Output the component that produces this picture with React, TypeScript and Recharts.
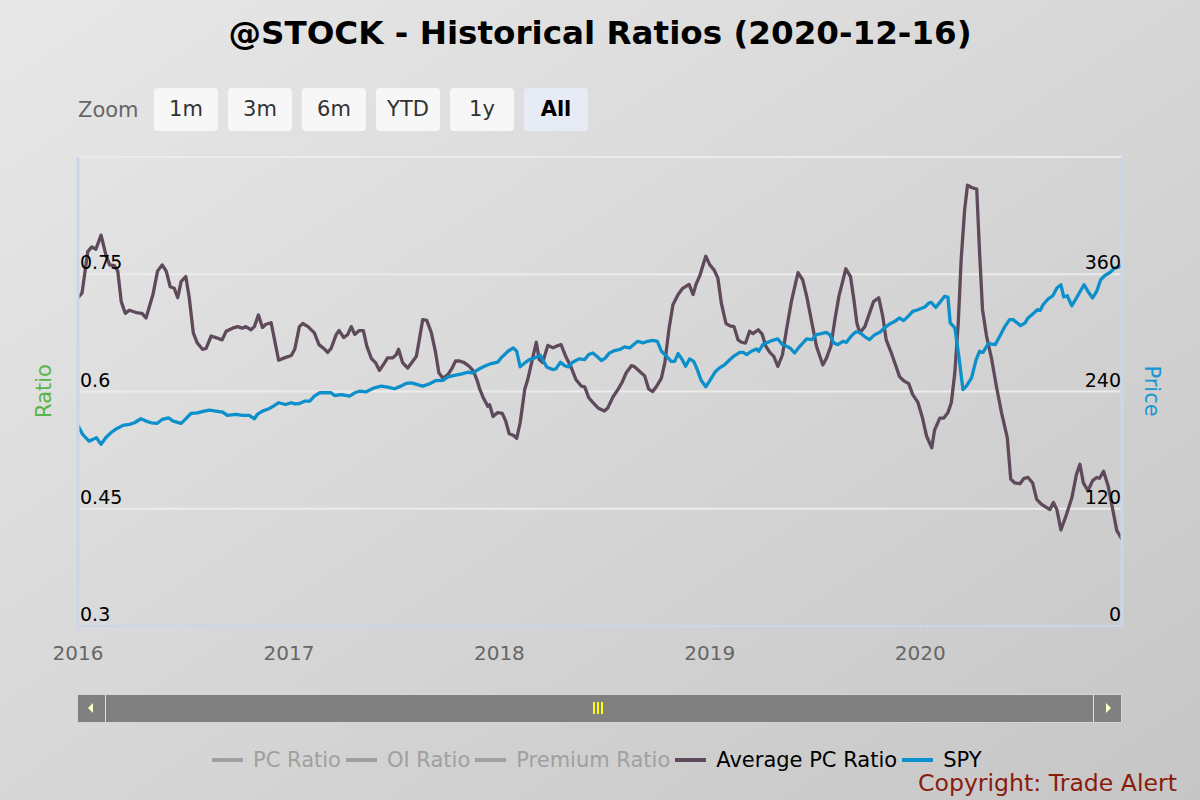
import React from "react";
import { LineChart, Line, XAxis, YAxis, CartesianGrid } from "recharts";

// Average PC Ratio (left axis)
const pcDates = [
  "2016-01-01","2016-01-08","2016-01-18","2016-01-25","2016-02-01","2016-02-10","2016-02-19","2016-02-25","2016-03-04","2016-03-10",
  "2016-03-16","2016-03-23","2016-03-30","2016-04-11","2016-04-21","2016-04-28","2016-05-10","2016-05-18","2016-05-26","2016-06-02",
  "2016-06-09","2016-06-16","2016-06-22","2016-06-28","2016-07-06","2016-07-12","2016-07-19","2016-07-26","2016-08-04","2016-08-10",
  "2016-08-19","2016-08-27","2016-09-07","2016-09-14","2016-09-25","2016-10-04","2016-10-12","2016-10-18","2016-10-27","2016-11-02",
  "2016-11-09","2016-11-16","2016-11-22","2016-12-01","2016-12-07","2016-12-14","2016-12-24",
  "2017-01-05","2017-01-11","2017-01-19","2017-01-25","2017-02-03","2017-02-14","2017-02-22","2017-03-04","2017-03-09","2017-03-15",
  "2017-03-24","2017-03-29","2017-04-06","2017-04-13","2017-04-19","2017-04-25","2017-05-03","2017-05-10","2017-05-16","2017-05-24",
  "2017-05-31","2017-06-07","2017-06-16","2017-06-21","2017-06-30","2017-07-06","2017-07-10","2017-07-17","2017-07-26","2017-08-04",
  "2017-08-10","2017-08-15","2017-08-21","2017-08-28","2017-09-05","2017-09-12","2017-09-18","2017-09-25","2017-10-04","2017-10-11",
  "2017-10-17","2017-10-24","2017-11-01","2017-11-10","2017-11-17","2017-11-23","2017-11-28","2017-12-04","2017-12-12","2017-12-15",
  "2017-12-21","2017-12-29",
  "2018-01-06","2018-01-12","2018-01-18","2018-01-25","2018-01-31","2018-02-06","2018-02-14","2018-02-19","2018-02-25","2018-03-06",
  "2018-03-11","2018-03-17","2018-03-26","2018-04-04","2018-04-10","2018-04-18","2018-04-26","2018-05-06","2018-05-14","2018-05-23",
  "2018-05-29","2018-06-05","2018-06-12","2018-06-21","2018-07-02","2018-07-08","2018-07-17","2018-07-26","2018-08-02","2018-08-09",
  "2018-08-18","2018-08-23","2018-09-01","2018-09-10","2018-09-17","2018-09-24","2018-10-01","2018-10-09","2018-10-15","2018-10-22",
  "2018-10-29","2018-11-07","2018-11-15","2018-11-26","2018-12-03","2018-12-08","2018-12-15","2018-12-25",
  "2019-01-01","2019-01-08","2019-01-15","2019-01-21","2019-01-29","2019-02-05","2019-02-12","2019-02-19","2019-02-25","2019-03-04",
  "2019-03-11","2019-03-17","2019-03-26","2019-04-02","2019-04-08","2019-04-15","2019-04-22","2019-04-29","2019-05-07","2019-05-14",
  "2019-05-23","2019-06-03","2019-06-11","2019-06-18","2019-06-27","2019-07-05","2019-07-16","2019-07-22","2019-07-30","2019-08-06",
  "2019-08-13","2019-08-25","2019-09-02","2019-09-08","2019-09-13","2019-09-18","2019-09-27","2019-10-04","2019-10-12","2019-10-21",
  "2019-10-28","2019-11-03","2019-11-12","2019-11-21","2019-11-26","2019-12-03","2019-12-12","2019-12-19","2019-12-28",
  "2020-01-05","2020-01-12","2020-01-21","2020-01-26","2020-02-04","2020-02-11","2020-02-18","2020-02-24","2020-03-01","2020-03-07",
  "2020-03-12","2020-03-18","2020-03-23","2020-03-30","2020-04-08","2020-04-13","2020-04-18","2020-04-25","2020-05-04","2020-05-12",
  "2020-05-21","2020-05-31","2020-06-06","2020-06-13","2020-06-22","2020-06-29","2020-07-06","2020-07-14","2020-07-21","2020-07-29",
  "2020-08-06","2020-08-13","2020-08-19","2020-08-25","2020-09-01","2020-09-10","2020-09-20","2020-09-28","2020-10-04","2020-10-10",
  "2020-10-18","2020-10-26","2020-11-02","2020-11-07","2020-11-14","2020-11-22","2020-12-01","2020-12-07","2020-12-16",
];
const pcValues = [
  0.720,0.726,0.779,0.785,0.782,0.800,0.773,0.762,0.761,0.754,
  0.715,0.700,0.704,0.701,0.700,0.694,0.724,0.754,0.762,0.754,
  0.734,0.732,0.720,0.741,0.747,0.720,0.675,0.662,0.654,0.655,
  0.671,0.669,0.666,0.677,0.681,0.683,0.681,0.683,0.679,0.683,
  0.698,0.682,0.686,0.688,0.666,0.640,0.643,
  0.646,0.654,0.683,0.687,0.683,0.675,0.660,0.654,0.650,0.655,
  0.673,0.678,0.669,0.673,0.683,0.673,0.678,0.678,0.658,0.642,
  0.637,0.627,0.637,0.643,0.643,0.647,0.654,0.637,0.630,0.639,
  0.645,0.666,0.692,0.691,0.675,0.651,0.624,0.617,0.622,0.630,
  0.639,0.639,0.637,0.632,0.626,0.615,0.603,0.592,0.581,0.583,
  0.568,0.573,
  0.572,0.562,0.546,0.544,0.540,0.560,0.603,0.615,0.634,0.663,
  0.641,0.637,0.659,0.656,0.658,0.660,0.645,0.630,0.615,0.607,
  0.606,0.592,0.586,0.579,0.575,0.579,0.593,0.603,0.612,0.624,
  0.633,0.632,0.626,0.620,0.603,0.600,0.607,0.617,0.637,0.679,
  0.711,0.724,0.732,0.737,0.724,0.737,0.749,0.773,
  0.762,0.756,0.745,0.713,0.687,0.684,0.683,0.666,0.663,0.662,
  0.677,0.674,0.679,0.673,0.658,0.650,0.645,0.632,0.647,0.679,
  0.717,0.752,0.743,0.722,0.688,0.658,0.634,0.642,0.658,0.692,
  0.722,0.757,0.747,0.717,0.688,0.675,0.683,0.698,0.715,0.720,
  0.696,0.666,0.649,0.630,0.619,0.614,0.610,0.596,0.586,
  0.566,0.543,0.528,0.551,0.566,0.566,0.573,0.586,0.624,0.688,
  0.769,0.832,0.864,0.861,0.859,0.777,0.705,0.671,0.641,0.607,
  0.573,0.541,0.488,0.483,0.482,0.489,0.490,0.483,0.462,0.456,
  0.452,0.449,0.458,0.449,0.423,0.441,0.464,0.494,0.507,0.483,
  0.473,0.486,0.490,0.489,0.498,0.479,0.445,0.422,0.411,
];

// SPY (right axis)
const spyDates = [
  "2016-01-01","2016-01-09","2016-01-20","2016-01-27","2016-02-02","2016-02-10","2016-02-18","2016-02-27","2016-03-08","2016-03-19",
  "2016-03-30","2016-04-08","2016-04-19","2016-04-28","2016-05-07","2016-05-17","2016-05-26","2016-06-06","2016-06-14","2016-06-28",
  "2016-07-05","2016-07-15","2016-07-26","2016-08-07","2016-08-16","2016-08-27","2016-09-08","2016-09-16","2016-10-01","2016-10-12",
  "2016-10-24","2016-11-02","2016-11-07","2016-11-16","2016-11-27","2016-12-05","2016-12-14","2016-12-26",
  "2017-01-05","2017-01-11","2017-01-19","2017-01-28","2017-02-06","2017-02-14","2017-02-23","2017-03-04","2017-03-15","2017-03-21",
  "2017-04-02","2017-04-16","2017-04-25","2017-05-03","2017-05-15","2017-05-29","2017-06-10","2017-06-21","2017-07-03","2017-07-14",
  "2017-07-23","2017-08-01","2017-08-12","2017-08-21","2017-09-02","2017-09-13","2017-09-25","2017-10-04","2017-10-15","2017-10-28",
  "2017-11-07","2017-11-16","2017-11-25","2017-12-06","2017-12-18","2017-12-29",
  "2018-01-04","2018-01-16","2018-01-25","2018-01-31","2018-02-06","2018-02-14","2018-02-22","2018-03-03","2018-03-13","2018-03-17",
  "2018-03-24","2018-04-03","2018-04-09","2018-04-17","2018-04-24","2018-05-01","2018-05-08","2018-05-19","2018-05-29","2018-06-05",
  "2018-06-12","2018-06-19","2018-06-27","2018-07-04","2018-07-11","2018-07-20","2018-07-29","2018-08-06","2018-08-15","2018-08-22",
  "2018-08-29","2018-09-07","2018-09-15","2018-09-24","2018-10-02","2018-10-09","2018-10-18","2018-10-26","2018-11-01","2018-11-07",
  "2018-11-14","2018-11-20","2018-11-27","2018-12-04","2018-12-09","2018-12-17","2018-12-25",
  "2019-01-01","2019-01-10","2019-01-18","2019-01-27","2019-02-05","2019-02-13","2019-02-22","2019-02-28","2019-03-06","2019-03-14",
  "2019-03-23","2019-03-27","2019-04-03","2019-04-12","2019-04-20","2019-04-29","2019-05-07","2019-05-16","2019-05-20","2019-05-28",
  "2019-06-06","2019-06-18","2019-06-27","2019-07-05","2019-07-13","2019-07-22","2019-07-28","2019-08-04","2019-08-11","2019-08-20",
  "2019-08-26","2019-09-03","2019-09-11","2019-09-18","2019-09-27","2019-10-05","2019-10-14","2019-10-23","2019-10-31","2019-11-09",
  "2019-11-18","2019-11-26","2019-12-03","2019-12-11","2019-12-19","2019-12-28",
  "2020-01-09","2020-01-16","2020-01-20","2020-01-28","2020-02-04","2020-02-12","2020-02-18","2020-02-22","2020-03-01","2020-03-08",
  "2020-03-15","2020-03-21","2020-03-30","2020-04-07","2020-04-13","2020-04-19","2020-04-28","2020-05-10","2020-05-18","2020-05-27",
  "2020-06-04","2020-06-10","2020-06-16","2020-06-23","2020-07-01","2020-07-06","2020-07-15","2020-07-22","2020-07-27","2020-08-01",
  "2020-08-10","2020-08-18","2020-08-25","2020-09-01","2020-09-06","2020-09-12","2020-09-20","2020-09-28","2020-10-11","2020-10-18",
  "2020-10-26","2020-11-02","2020-11-09","2020-11-16","2020-11-25","2020-12-03","2020-12-16",
];
const spyValues = [
  205.0,196.1,189.2,191.0,192.7,185.9,192.7,197.8,201.9,205.3,
  206.3,208.0,212.1,209.7,208.0,207.3,211.4,213.1,209.7,207.3,
  211.4,217.5,218.2,219.9,220.9,219.9,218.9,215.5,216.5,215.5,
  215.5,212.1,216.5,219.9,222.3,225.0,228.5,226.7,
  228.5,227.4,227.7,230.1,230.1,235.2,238.7,238.7,238.7,235.9,
  236.9,235.2,238.7,240.3,239.7,243.8,245.5,244.4,242.8,245.5,
  248.2,248.9,247.1,245.5,247.9,251.2,251.5,255.0,256.6,258.1,
  259.7,259.1,262.5,265.8,268.6,270.0,
  274.4,281.2,284.6,281.2,265.2,269.3,272.7,274.4,277.1,272.7,
  265.2,262.5,263.2,269.9,266.5,265.2,269.9,273.4,272.7,277.8,
  279.5,276.0,271.7,274.4,279.5,281.9,283.0,285.7,284.6,288.0,
  291.4,289.7,291.4,292.4,291.4,281.2,276.0,270.9,270.9,278.8,
  272.7,265.8,273.4,270.9,264.2,251.5,244.8,
  251.2,259.9,264.2,267.6,272.7,276.8,280.1,280.1,277.8,281.2,
  283.6,281.2,288.0,290.3,292.4,293.8,288.0,285.7,284.6,279.5,
  286.3,293.8,293.1,298.2,299.2,300.6,298.2,289.7,288.0,291.4,
  290.3,296.5,301.0,300.6,295.9,293.1,298.2,300.6,305.1,309.1,
  311.8,315.3,312.5,316.9,322.0,323.7,
  326.5,330.6,331.2,326.1,331.2,337.3,336.7,310.2,305.1,276.0,
  242.0,245.5,254.0,272.7,281.2,280.1,289.0,288.0,296.5,306.7,
  313.5,313.5,310.8,307.4,310.2,315.3,319.7,323.7,323.0,328.8,
  334.7,338.0,345.9,349.3,336.7,338.0,327.8,335.7,349.3,342.4,
  335.7,342.4,354.4,358.5,361.8,366.3,368.7,
];

const yearTicks = ["2016-01-01", "2017-01-01", "2018-01-01", "2019-01-01", "2020-01-01"];
const ratioTicks = [0.3, 0.45, 0.6, 0.75, 0.9];
const priceTicks = [0, 120, 240, 360, 480];
const zoomButtons = ["1m", "3m", "6m", "YTD", "1y", "All"];
const selectedZoom = "All";
const legendNames = ["PC Ratio", "OI Ratio", "Premium Ratio", "Average PC Ratio", "SPY"];
const hiddenSeries = ["PC Ratio", "OI Ratio", "Premium Ratio"];

const FONT = "'DejaVu Sans', sans-serif";
const PC_COLOR = "#5e4a5a";
const SPY_COLOR = "#0c90cb";
const AXIS_COLOR = "#ccd6eb";
const seriesColor: Record<string, string> = {
  "Average PC Ratio": PC_COLOR,
  SPY: SPY_COLOR,
};

const toTime = (d: string) => new Date(d + "T00:00:00Z").getTime();

const pcData = pcDates.map((d, i) => ({ t: toTime(d), pc: pcValues[i] }));
const spyData = spyDates.map((d, i) => ({ t: toTime(d), spy: spyValues[i] }));
const xMin = Math.min(pcData[0].t, spyData[0].t);
const xMax = Math.max(pcData[pcData.length - 1].t, spyData[spyData.length - 1].t);

// labels sit inside the plot, just above their grid line; the top one is skipped
const LeftTick = (props: any) => {
  const { x, y, payload } = props;
  if (payload.value === ratioTicks[ratioTicks.length - 1]) return <g />;
  return (
    <text x={x + 2} y={y - 5} fill="#000" fontSize={19} fontFamily={FONT} textAnchor="start">
      {payload.value}
    </text>
  );
};

const RightTick = (props: any) => {
  const { x, y, payload } = props;
  if (payload.value === priceTicks[priceTicks.length - 1]) return <g />;
  return (
    <text x={x - 1} y={y - 5} fill="#000" fontSize={19} fontFamily={FONT} textAnchor="end">
      {payload.value}
    </text>
  );
};

function Scrollbar() {
  return (
    <div style={{ position: "absolute", left: 77, top: 694, width: 1045, height: 29, background: "#d4d4d4" }}>
      <div style={{ position: "absolute", left: 1, top: 1, right: 1, bottom: 1, background: "#808080" }} />
      <div style={{ position: "absolute", left: 28, top: 1, width: 1, bottom: 1, background: "#e0e0e0" }} />
      <div style={{ position: "absolute", right: 28, top: 1, width: 1, bottom: 1, background: "#e0e0e0" }} />
      <div style={{ position: "absolute", left: 11, top: 9, width: 0, height: 0, borderTop: "5px solid transparent", borderBottom: "5px solid transparent", borderRight: "5px solid #ffffcc" }} />
      <div style={{ position: "absolute", right: 11, top: 9, width: 0, height: 0, borderTop: "5px solid transparent", borderBottom: "5px solid transparent", borderLeft: "5px solid #ffffcc" }} />
      {[0, 1, 2].map((i) => (
        <div key={i} style={{ position: "absolute", left: 516 + i * 4, top: 8, width: 1.5, height: 12, background: "#ffff00" }} />
      ))}
    </div>
  );
}

export default function App() {
  return (
    <div
      style={{
        position: "relative",
        width: 1200,
        height: 800,
        overflow: "hidden",
        background: "linear-gradient(to bottom right, #e8e8e8, #c6c6c6)",
        fontFamily: FONT,
      }}
    >
      <style>{"body{margin:0}"}</style>
      <div style={{ position: "absolute", top: 12, left: 0, width: 1200, textAlign: "center", fontSize: 32.6, fontWeight: "bold", lineHeight: "42px", color: "#000" }}>
        @STOCK - Historical Ratios (2020-12-16)
      </div>

      <div style={{ position: "absolute", left: 78, top: 89, lineHeight: "43px", fontSize: 21, color: "#666" }}>Zoom</div>
      {zoomButtons.map((b, i) => (
        <div
          key={b}
          style={{
            position: "absolute",
            left: 154 + i * 74,
            top: 88,
            width: 64,
            height: 43,
            lineHeight: "43px",
            textAlign: "center",
            borderRadius: 4,
            fontSize: 21,
            background: b === selectedZoom ? "#e6ebf5" : "#f7f7f7",
            color: b === selectedZoom ? "#000" : "#333",
            fontWeight: b === selectedZoom ? "bold" : "normal",
          }}
        >
          {b}
        </div>
      ))}

      <div style={{ position: "absolute", left: 44, top: 391, transform: "translate(-50%,-50%) rotate(-90deg)", fontSize: 21, color: "#58b548", whiteSpace: "nowrap" }}>
        Ratio
      </div>
      <div style={{ position: "absolute", left: 1152, top: 391, transform: "translate(-50%,-50%) rotate(90deg)", fontSize: 21, color: "#1796d2", whiteSpace: "nowrap" }}>
        Price
      </div>

      <LineChart width={1200} height={670} margin={{ top: 157, right: 77, bottom: 0, left: 77 }} style={{ position: "absolute", left: 0, top: 0 }}>
        <CartesianGrid yAxisId="ratio" vertical={false} stroke="#ebebeb" strokeWidth={2} />
        <XAxis
          type="number"
          dataKey="t"
          domain={[xMin, xMax]}
          allowDataOverflow
          ticks={yearTicks.map(toTime)}
          tickFormatter={(t: number) => String(new Date(t).getUTCFullYear())}
          axisLine={{ stroke: AXIS_COLOR, strokeWidth: 2 }}
          tickLine={{ stroke: AXIS_COLOR }}
          tickSize={10}
          tickMargin={10}
          tick={{ fill: "#666", fontSize: 20, fontFamily: FONT }}
          height={44}
        />
        <YAxis
          yAxisId="ratio"
          domain={[0.3, 0.9]}
          ticks={ratioTicks}
          width={1}
          tickSize={0}
          tickMargin={0}
          tickLine={false}
          axisLine={{ stroke: AXIS_COLOR, strokeWidth: 3 }}
          tick={LeftTick}
          allowDataOverflow
        />
        <YAxis
          yAxisId="price"
          orientation="right"
          domain={[0, 480]}
          ticks={priceTicks}
          width={1}
          tickSize={0}
          tickMargin={0}
          tickLine={false}
          axisLine={{ stroke: AXIS_COLOR, strokeWidth: 3 }}
          tick={RightTick}
          allowDataOverflow
        />
        <Line
          data={pcData}
          dataKey="pc"
          name="Average PC Ratio"
          yAxisId="ratio"
          type="linear"
          stroke={PC_COLOR}
          strokeWidth={3.3}
          strokeLinejoin="round"
          dot={false}
          isAnimationActive={false}
        />
        <Line
          data={spyData}
          dataKey="spy"
          name="SPY"
          yAxisId="price"
          type="linear"
          stroke={SPY_COLOR}
          strokeWidth={3.3}
          strokeLinejoin="round"
          dot={false}
          isAnimationActive={false}
        />
      </LineChart>

      <Scrollbar />

      <div style={{ position: "absolute", left: 212, top: 745, height: 30, display: "flex", alignItems: "center", fontSize: 21, whiteSpace: "nowrap" }}>
        {legendNames.map((n) => {
          const hidden = hiddenSeries.includes(n);
          return (
            <div key={n} style={{ display: "flex", alignItems: "center", marginRight: 5 }}>
              <div style={{ width: 31, height: 4, background: hidden ? "#a0a0a0" : seriesColor[n], marginRight: 10 }} />
              <span style={{ color: hidden ? "#a0a0a0" : "#000" }}>{n}</span>
            </div>
          );
        })}
      </div>

      <div style={{ position: "absolute", left: 918, top: 768, fontSize: 23.6, color: "#8a1c0c", whiteSpace: "nowrap", lineHeight: "30px" }}>
        Copyright: Trade Alert
      </div>
    </div>
  );
}
